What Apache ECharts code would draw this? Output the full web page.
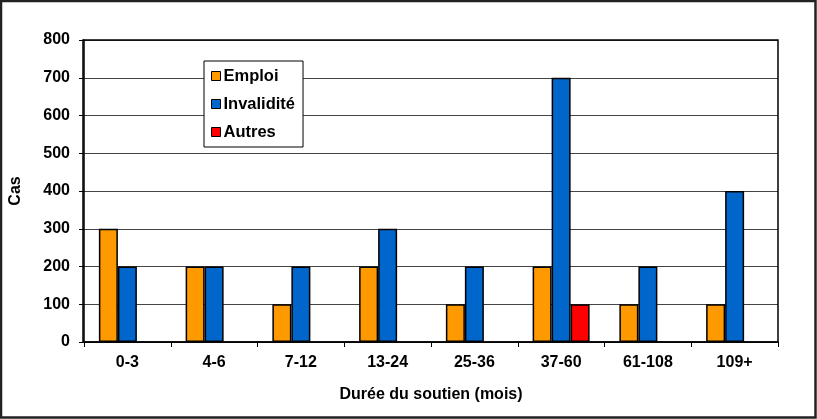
<!DOCTYPE html>
<html><head><meta charset="utf-8">
<script src="https://cdn.jsdelivr.net/npm/echarts@6/dist/echarts.min.js"></script>
<style>html,body{margin:0;padding:0;background:#fff}#c{width:817px;height:419px}</style>
</head><body><div id="c"></div>
<script>
const categories = ['0-3','4-6','7-12','13-24','25-36','37-60','61-108','109+'];
const emploi = [300,200,100,200,100,200,100,100];
const invalidite = [200,200,200,300,200,700,200,400];
const autres = [0,0,0,0,0,100,0,0];
const yTicks = [0,100,200,300,400,500,600,700,800];
const seriesNames = ['Emploi','Invalidité','Autres'];
const colors = ['#FF9900','#0066CC','#FF0000'];

const font = 'Liberation Sans, Arial, sans-serif';
const chart = echarts.init(document.getElementById('c'), null, {renderer:'canvas'});
const mk = (name, data, color) => ({
  name, type:'bar', data: data.map(v => v === 0 ? null : v),
  barWidth: '21.9%', barGap: '0%', barCategoryGap: '34%',
  itemStyle: {color, borderColor:'#000', borderWidth:1.5},
  emphasis: {disabled:true}
});
chart.setOption({
  animation:false,
  textStyle:{fontFamily:font},
  graphic:[
    {type:'rect', shape:{x:1,y:1,width:814.5,height:416.5}, style:{fill:'#fff', stroke:'#222', lineWidth:2.5}, z:-9, silent:true},
    {type:'rect', shape:{x:83,y:40,width:695,height:302}, style:{fill:'none', stroke:'#000', lineWidth:1.5}, z:10, silent:true}
  ],
  grid:{left:83, top:40, width:695, height:302, containLabel:false},
  legend:{
    orient:'vertical', left:204, top:61, width:101,
    padding:[6,8,6,7], itemGap:10,
    backgroundColor:'#fff', borderColor:'#000', borderWidth:1,
    itemWidth:9, itemHeight:9, icon:'rect',
    data: seriesNames,
    textStyle:{fontFamily:font, fontWeight:'bold', fontSize:16.5, color:'#000', padding:[0,0,0,-2], lineHeight:18},
    itemStyle:{borderColor:'#000', borderWidth:1}
  },
  xAxis:{
    type:'category', data:categories,
    name:'Durée du soutien (mois)', nameLocation:'middle', nameGap:45,
    nameTextStyle:{fontFamily:font, fontWeight:'bold', fontSize:16, color:'#000'},
    axisLine:{lineStyle:{color:'#000', width:1.5}},
    axisTick:{show:true, alignWithLabel:false, length:5, lineStyle:{color:'#000'}},
    axisLabel:{fontFamily:font, fontWeight:'bold', fontSize:16, color:'#000', margin:13},
    splitLine:{show:false}
  },
  yAxis:{
    type:'value', min:yTicks[0], max:yTicks[yTicks.length-1], interval:100,
    name:'Cas', nameLocation:'middle', nameGap:60, nameRotate:90,
    nameTextStyle:{fontFamily:font, fontWeight:'bold', fontSize:16, color:'#000'},
    axisLine:{show:true, lineStyle:{color:'#000', width:1.5}},
    axisTick:{show:true, length:5, lineStyle:{color:'#000'}},
    axisLabel:{fontFamily:font, fontWeight:'bold', fontSize:16, color:'#000', margin:14},
    splitLine:{show:true, lineStyle:{color:'#444', width:1}}
  },
  series:[mk(seriesNames[0], emploi, colors[0]), mk(seriesNames[1], invalidite, colors[1]), mk(seriesNames[2], autres, colors[2])]
});
</script></body></html>
